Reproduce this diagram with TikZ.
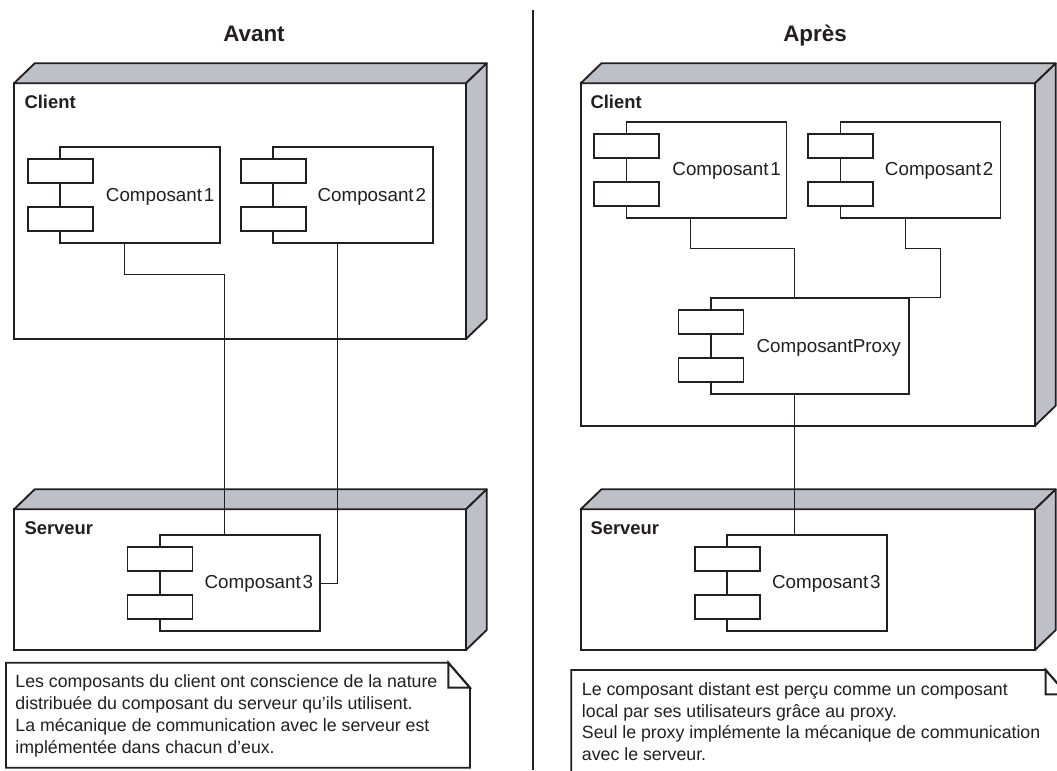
\documentclass[tikz,border=0pt]{standalone}
\usepackage{fontspec}
\setmainfont{Liberation Sans}
\definecolor{ink}{HTML}{231F20}
\definecolor{facegrey}{HTML}{BDC0C7}
\def\px{0.75pt}
\newcommand{\tightwords}{\spaceskip=.1em\relax}
\tikzset{
  nodefront/.style={draw=ink,line width=1.4pt,fill=white,anchor=north west,inner sep=0pt,outer sep=0pt},
  face/.style={draw=ink,line width=1.4pt,fill=facegrey,line join=round},
  compbody/.style={draw=ink,line width=1.25pt,fill=white,anchor=north west,inner sep=0pt,outer sep=0pt,minimum width=160*\px,minimum height=96*\px},
  port/.style={draw=ink,line width=1.25pt,fill=white,anchor=north west,inner sep=0pt,outer sep=0pt,minimum width=65*\px,minimum height=24*\px},
  wire/.style={draw=ink,line width=0.7pt},
  complabel/.style={anchor=base west,inner sep=0pt,text=ink,font=\fontsize{14.1pt}{17pt}\selectfont},
  nodelabel/.style={anchor=base west,inner sep=0pt,text=ink,font=\fontsize{13.8pt}{17pt}\selectfont\bfseries},
  heading/.style={anchor=base,inner sep=0pt,text=ink,font=\fontsize{16.8pt}{20pt}\selectfont\bfseries},
  notetext/.style={anchor=base west,inner sep=0pt,text=ink,font=\fontsize{13.3pt}{16pt}\selectfont},
  noteline/.style={draw=ink,line width=1.25pt,line join=miter},
}
% #1 name, #2 x, #3 y, #4 width, #5 height
\newcommand{\deploybox}[5]{%
  \node[nodefront,minimum width=#4*\px,minimum height=#5*\px] (#1) at (#2,#3) {};
  \draw[face] (#1.north west) -- ++(20.7,-20) -- ++(#4,0) -- (#1.north east) -- cycle;
  \draw[face] (#1.north east) -- ++(20.7,-20) -- ++(0,#5) -- (#1.south east) -- cycle;
}
% #1 name, #2 x, #3 y, #4 label, #5 label x
\newcommand{\umlcomp}[5]{%
  \node[compbody] (#1) at (#2,#3) {};
  \pgfmathsetmacro{\portx}{#2-32.5}
  \pgfmathsetmacro{\portya}{#3+12}
  \pgfmathsetmacro{\portyb}{#3+60}
  \pgfmathsetmacro{\labely}{#3+53.7}
  \node[port] (#1p1) at (\portx,\portya) {};
  \node[port] (#1p2) at (\portx,\portyb) {};
  \node[complabel] (#1t) at (#5,\labely) {\tightwords #4};
}
\begin{document}
\begin{tikzpicture}[x=\px,y=-\px]
\useasboundingbox (0,0) rectangle (1057,771);
\clip (0,0) rectangle (1057,771);

% headings
\node[heading] (avant) at (254,41.5) {Avant};
\node[heading] (apres) at (815,41.5) {Après};

% divider
\coordinate (divtop) at (533.3,9.5);
\coordinate (divbot) at (533.3,770);
\draw[draw=ink,line width=1.3pt] (divtop) -- (divbot);

% ---------- Avant ----------
\deploybox{lclient}{14}{83.3}{452}{255.7}
\node[nodelabel] (lclientt) at (24.3,108) {Client};
\deploybox{lserver}{14}{509.3}{452}{140.7}
\node[nodelabel] (lservert) at (24.3,534) {Serveur};

\umlcomp{la}{60.3}{147.3}{Composant 1}{105.7}
\umlcomp{lb}{273.3}{147.3}{Composant 2}{317.3}
\umlcomp{lc}{160}{534.7}{Composant 3}{204.4}

\coordinate (lw1a) at (124.3,274);
\coordinate (lw1b) at (224.3,274);
\coordinate (lw2a) at (337,583);
\draw[wire] (la.south -| lw1a) -- (lw1a) -- (lw1b) -- (lc.north -| lw1b);
\draw[wire] (lb.south -| lw2a) -- (lw2a) -- (lc.east |- lw2a);

% ---------- Après ----------
\deploybox{rclient}{580.7}{83.3}{454.3}{342.4}
\node[nodelabel] (rclientt) at (590.3,108) {Client};
\deploybox{rserver}{580.7}{509.3}{454.3}{140.7}
\node[nodelabel] (rservert) at (590.3,534) {Serveur};

\umlcomp{ra}{626.5}{122}{Composant 1}{672.2}
\umlcomp{rb}{840.5}{122}{Composant 2}{884.7}
\node[compbody,minimum width=198*\px] (rp) at (711,297.8) {};
\node[port] (rpp1) at (678.5,309.8) {};
\node[port] (rpp2) at (678.5,357.8) {};
\node[complabel] (rpt) at (756.4,352) {ComposantProxy};
\umlcomp{rc}{727.3}{534.7}{Composant 3}{771.9}

\coordinate (rw1a) at (690.8,248);
\coordinate (rw1b) at (794.2,248);
\coordinate (rw2a) at (905,248);
\coordinate (rw2b) at (940,248);
\coordinate (rw2c) at (940,297.8);
\draw[wire] (ra.south -| rw1a) -- (rw1a) -- (rw1b) -- (rp.north -| rw1b);
\draw[wire] (rb.south -| rw2a) -- (rw2a) -- (rw2b) -- (rw2c) -- (rp.north east);
\draw[wire] (rp.south -| rw1b) -- (rc.north -| rw1b);

% ---------- Notes ----------
\draw[noteline,fill=white] (6,662.7) -- (448.3,662.7) -- (470,687.7) -- (470,767.7) -- (6,767.7) -- cycle;
\draw[noteline,line width=1.5pt] (448.3,662.7) -- (448.3,687.7) -- (470,687.7) -- cycle;
\node[notetext] (ln1) at (15.2,687) {Les composants du client ont conscience de la nature};
\node[notetext] (ln2) at (15.2,709.5) {distribuée du composant du serveur qu’ils utilisent.};
\node[notetext] (ln3) at (15.2,731.5) {La mécanique de communication avec le serveur est};
\node[notetext] (ln4) at (15.2,753.5) {implémentée dans chacun d’eux.};

\draw[noteline,fill=white] (571.2,790) -- (571.2,670) -- (1045.7,670) -- (1067,694.3) -- (1067,790);
\draw[noteline,line width=1.5pt] (1045.7,670) -- (1045.7,694.3) -- (1067,694.3) -- cycle;
\node[notetext] (rn1) at (581.7,695.5) {Le composant distant est perçu comme un composant};
\node[notetext] (rn2) at (581.7,717.5) {local par ses utilisateurs grâce au proxy.};
\node[notetext] (rn3) at (581.7,738) {Seul le proxy implémente la mécanique de communication};
\node[notetext] (rn4) at (581.7,760) {avec le serveur.};
\end{tikzpicture}
\end{document}
